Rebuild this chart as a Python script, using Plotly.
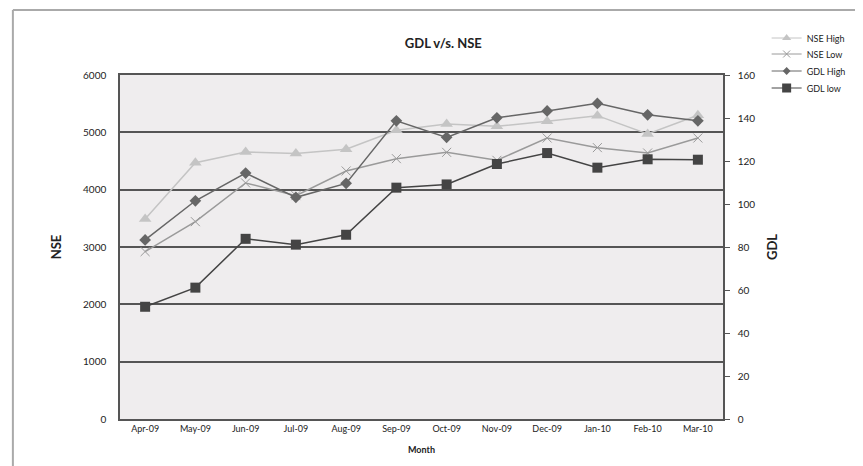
import plotly.graph_objects as go

months = ["Apr-09", "May-09", "Jun-09", "Jul-09", "Aug-09", "Sep-09",
          "Oct-09", "Nov-09", "Dec-09", "Jan-10", "Feb-10", "Mar-10"]
nse_high = [3490, 4470, 4657, 4630, 4704, 5035, 5145, 5105, 5192, 5291, 4971, 5297]
nse_low = [2920, 3442, 4117, 3896, 4326, 4541, 4651, 4512, 4901, 4733, 4640, 4901]
gdl_high = [83.3, 101.5, 114.4, 103.1, 109.6, 138.7, 131.0, 140.1, 143.3, 146.8, 141.5, 138.7]
gdl_low = [52.2, 61.1, 83.8, 81.1, 85.7, 107.6, 109.1, 118.6, 123.7, 116.9, 120.8, 120.6]
names = ["NSE High", "NSE Low", "GDL High", "GDL low"]

FONT = "Lato"
OFF = 8  # page body margin
W, H = 863 - OFF, 466 - OFF
# plot area in page coords: x 120..728, y 75..419
L, T = 120 - OFF, 75 - OFF
R = W - (728 - OFF)
B = H - (419 - OFF)
pw, ph = W - L - R, H - T - B

def px(x):  # page px -> paper
    return (x - OFF - L) / pw

def py(y):
    return (419 - y) / ph

colors = ["#c4c4c4", "#9a9a9a", "#666666", "#444444"]
symbols = ["triangle-up", "x-thin-open", "diamond", "square"]
sizes = [11, 9, 9, 10]
leg_sizes = [8, 7, 6, 9]
series = [nse_high, nse_low, gdl_high, gdl_low]
axes = ["y", "y", "y2", "y2"]
legend_ids = ["legend", "legend2", "legend3", "legend4"]
legend_y = [38, 54, 71, 88]

fig = go.Figure()
for i in range(4):
    mk = dict(symbol=symbols[i], size=sizes[i], color=colors[i])
    if symbols[i] == "x-thin-open":
        mk["line"] = dict(color=colors[i], width=1)
    fig.add_trace(go.Scatter(x=months, y=series[i], name=names[i], mode="lines+markers",
                             yaxis=axes[i], showlegend=False,
                             line=dict(color=colors[i], width=1.5), marker=mk))
for i in range(4):
    mk = dict(symbol=symbols[i], size=leg_sizes[i], color=colors[i])
    if symbols[i] == "x-thin-open":
        mk["line"] = dict(color=colors[i], width=1)
    fig.add_trace(go.Scatter(x=[None], y=[None], name=names[i], mode="lines+markers",
                             yaxis=axes[i], showlegend=True, legend=legend_ids[i],
                             line=dict(color=colors[i], width=1), marker=mk))

legend_layout = {}
for i, lid in enumerate(legend_ids):
    legend_layout[lid] = dict(x=px(772), y=py(legend_y[i]), xanchor="left", yanchor="middle",
                              font=dict(size=9, color="#222"), bgcolor="rgba(0,0,0,0)",
                              itemwidth=30)

fig.update_layout(
    width=W, height=H,
    margin=dict(l=L, r=R, t=T, b=B),
    paper_bgcolor="white",
    plot_bgcolor="#efedee",
    font=dict(family=FONT, size=10, color="#222"),
    title=dict(text="<b>GDL v/s. NSE</b>", x=px(446), xanchor="center", xref="paper",
               y=1 - (43 - OFF) / H, yanchor="middle", font=dict(size=13, color="#222")),
    xaxis=dict(type="category", showgrid=False, showline=True, linecolor="#555", linewidth=1.5,
               mirror=True, ticks="", tickfont=dict(size=9), range=[-0.5, 11.5],
               title=dict(text="<b>Month</b>", font=dict(size=9), standoff=14)),
    yaxis=dict(range=[0, 6000], dtick=1000, showgrid=True, gridcolor="#555", gridwidth=1.5,
               showline=True, linecolor="#555", linewidth=1.5, ticks="", zeroline=False,
               ticklabelstandoff=10,
               title=dict(text="<b>NSE</b>", font=dict(size=13), standoff=18)),
    yaxis2=dict(range=[0, 160], dtick=20, overlaying="y", side="right", showgrid=False,
                showline=True, linecolor="#555", linewidth=1.5, ticks="outside", ticklen=5,
                tickcolor="#555", zeroline=False, ticklabelstandoff=6,
                title=dict(text="<b>GDL</b>", font=dict(size=13), standoff=14)),
    shapes=[
        dict(type="line", xref="paper", yref="paper", x0=px(12), x1=px(12), y0=py(10), y1=py(470),
             line=dict(color="#aaaaaa", width=2)),
        dict(type="line", xref="paper", yref="paper", x0=px(12), x1=px(870), y0=py(10), y1=py(10),
             line=dict(color="#aaaaaa", width=2)),
    ],
    **legend_layout,
)

fig.write_html("out.html")
